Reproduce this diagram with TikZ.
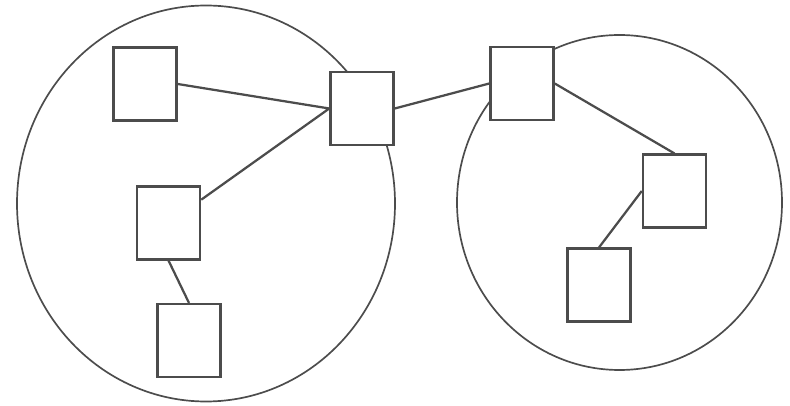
\documentclass[tikz,border=0pt]{standalone}
\usepackage{tikz}

\begin{document}
\begin{tikzpicture}[x=0.025cm,y=-0.025cm,line width=1.6pt,color=black!70,
  box/.style={draw,fill=white,minimum width=1.58cm,minimum height=1.82cm,inner sep=0pt}]
\useasboundingbox (0,0) rectangle (790,406);
\draw[line width=1.2pt] (206,203.5) ellipse [x radius=189,y radius=198] (619.5,202.5) ellipse [x radius=162.5,y radius=167.5];
\node[box] (A) at (145,84) {};
\node[box] (B) at (362,108.5) {};
\node[box] (C) at (168.5,223) {};
\node[box] (D) at (189,340.5) {};
\node[box] (E) at (522,83.5) {};
\node[box] (F) at (674.5,191) {};
\node[box] (G) at (599,285) {};
\draw (A.east)--(B.west) (C)--(B.west) (C.south)--(D.north) (B.east)--(E.west) (E.east)--(F.north) (F.west)--(G.north);
\end{tikzpicture}
\end{document}
